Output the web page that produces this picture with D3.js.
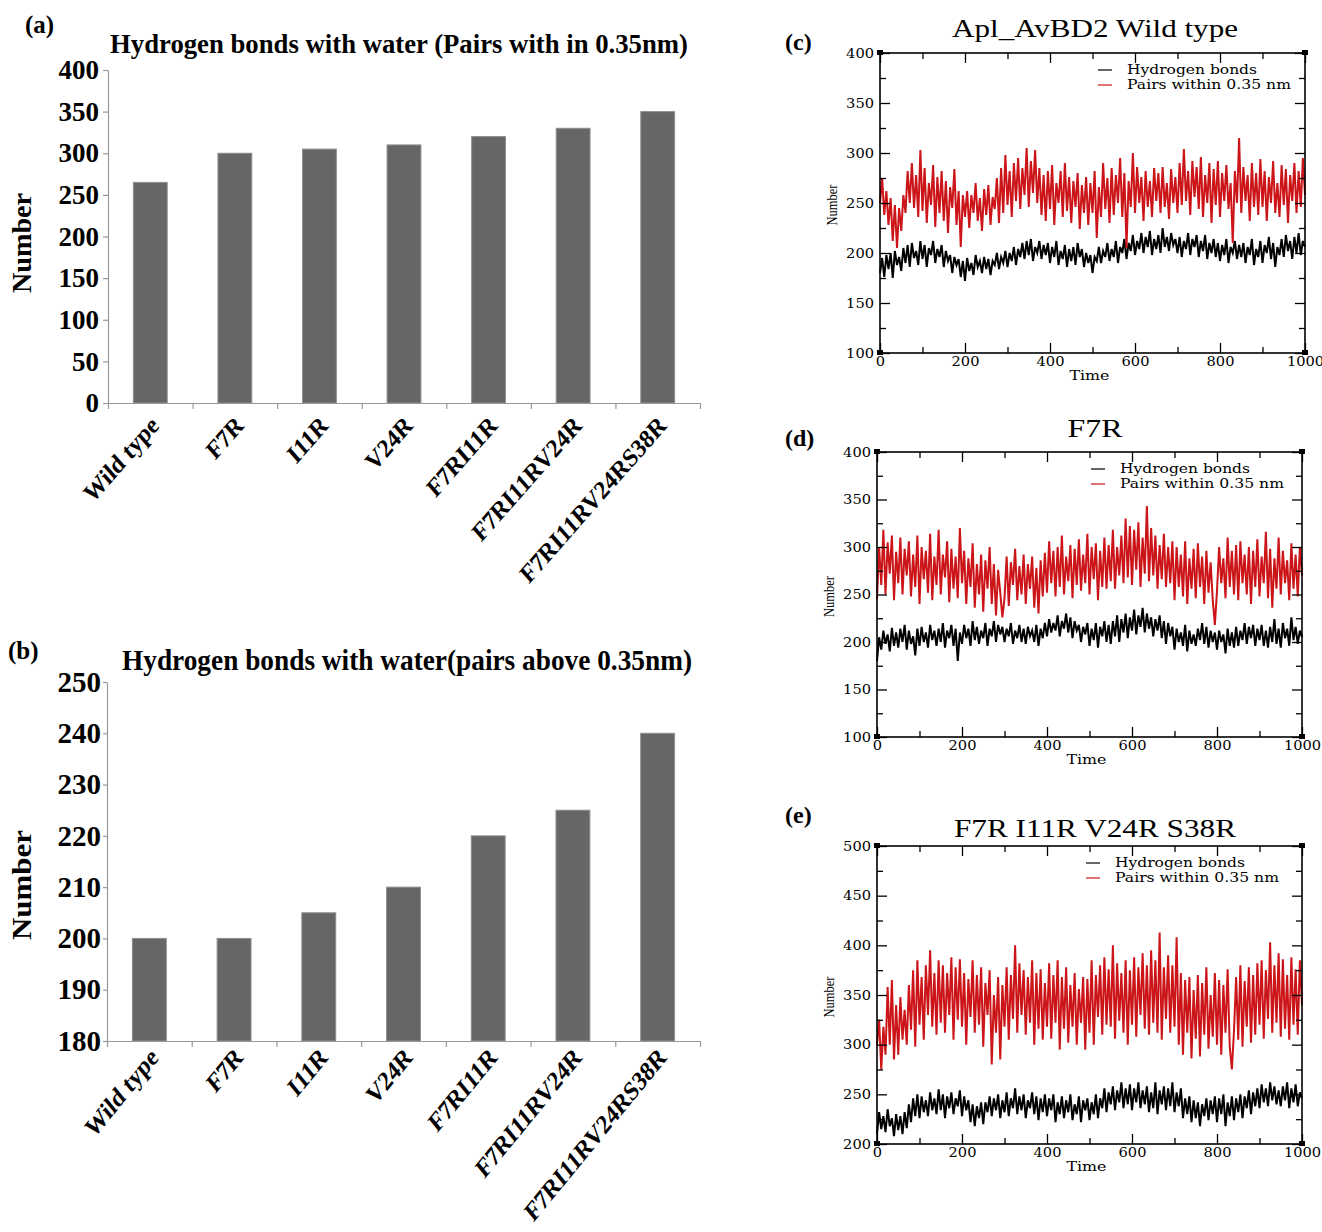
<!DOCTYPE html>
<html>
<head>
<meta charset="utf-8">
<script src="https://cdn.jsdelivr.net/npm/d3@7"></script>
<style>
body { margin: 0; background: #fff; }
</style>
</head>
<body>
<div id="graph"></div>
<script>
const svgw = 1322
const svgh = 1232
const serif = "'Liberation Serif','Times New Roman',serif"
const grace = "'DejaVu Serif',serif"

const mutants = ['Wild type', 'F7R', 'I11R', 'V24R', 'F7RI11R', 'F7RI11RV24R', 'F7RI11RV24RS38R']
const pairsWithin = [265, 300, 305, 310, 320, 330, 350]
const pairsAbove = [200, 200, 205, 210, 220, 225, 240]
const ticksA = [0, 50, 100, 150, 200, 250, 300, 350, 400]
const ticksB = [180, 190, 200, 210, 220, 230, 240, 250]

const timeStep = 5
const timeTicks = [0, 200, 400, 600, 800, 1000]
const timeMinor = [100, 300, 500, 700, 900]
const ticks100 = [100, 150, 200, 250, 300, 350, 400]
const minor100 = [125, 175, 225, 275, 325, 375]
const ticks200 = [200, 250, 300, 350, 400, 450, 500]
const minor200 = [225, 275, 325, 375, 425, 475]

const wtPairs = [250,275,238,262,228,255,212,248,205,245,
  222,258,240,282,250,290,245,278,236,303,
  242,285,230,270,248,288,226,276,240,282,
  232,272,220,266,245,284,228,262,206,258,
  236,262,225,258,240,270,232,255,222,264,
  238,268,228,256,244,275,230,285,240,298,
  248,282,236,290,252,295,244,285,258,305,
  246,292,260,303,250,285,238,278,232,282,
  244,288,228,270,250,282,236,290,242,276,
  230,272,246,280,224,268,240,276,228,270,
  240,282,215,266,236,290,244,275,230,285,
  238,278,250,295,236,280,205,272,246,300,
  240,286,250,276,232,282,246,272,236,285,
  252,280,240,286,246,270,234,284,250,276,
  240,290,248,304,252,282,238,292,256,286,
  244,296,236,278,250,290,230,284,248,292,
  236,280,252,288,244,270,210,282,250,315,
  240,286,252,278,232,290,246,280,238,294,
  246,282,232,276,250,292,240,270,236,288,
  248,284,230,278,252,290,240,282,246,295,258]
const wtHbonds = [180,195,176,198,184,200,175,202,188,196,
  182,205,190,208,186,210,195,202,188,212,
  194,208,186,205,198,212,190,204,196,208,
  186,202,192,198,180,196,188,194,176,192,
  172,195,182,190,178,198,186,192,180,196,
  184,194,178,192,188,200,184,196,190,202,
  186,200,192,206,188,204,196,210,194,212,
  198,214,192,206,200,212,194,208,198,210,
  190,206,196,212,188,202,194,208,186,204,
  192,206,188,210,196,204,186,200,190,198,
  180,196,192,206,190,202,196,210,192,204,
  196,212,190,206,200,214,194,210,202,218,
  198,212,204,220,200,216,206,222,198,214,
  204,218,200,225,206,216,202,220,208,214,
  200,216,196,212,204,220,198,214,206,218,
  196,212,202,218,194,210,200,214,196,210,
  192,208,198,214,190,206,200,212,194,208,
  196,210,190,206,198,214,188,204,196,212,
  190,208,200,216,194,210,186,206,198,214,
  196,218,202,212,194,216,200,220,198,212,206]
const f7rPairs = [245,300,260,318,250,305,272,312,244,295,
  262,310,250,298,270,306,248,292,258,312,
  240,300,266,296,252,314,244,290,260,318,
  250,292,268,306,242,298,256,290,246,320,
  262,296,240,288,258,304,236,282,250,292,
  232,286,256,300,240,282,228,276,252,226,
  246,290,238,284,260,298,244,280,250,292,
  240,282,256,290,236,278,230,286,248,294,
  252,306,262,296,248,300,258,312,250,290,
  264,302,246,298,260,308,254,292,262,314,
  250,300,266,304,244,296,258,310,256,302,
  264,318,256,300,270,312,262,330,268,322,
  260,318,276,326,258,310,272,343,264,320,
  270,312,256,302,266,314,258,300,262,306,
  244,300,258,292,248,306,240,288,256,298,
  246,304,258,290,240,296,252,284,244,218,
  254,300,262,288,246,310,258,296,250,302,
  244,306,262,292,250,300,240,296,258,308,
  248,290,262,316,246,298,236,288,256,310,
  250,296,262,286,244,304,256,292,248,300,270]
const f7rHbonds = [180,205,192,212,198,208,190,215,196,210,
  194,214,200,218,192,212,198,206,186,214,
  196,216,200,210,194,218,202,212,196,214,
  200,220,194,212,204,218,196,214,180,210,
  198,218,204,214,196,222,202,216,198,212,
  204,220,196,214,206,222,200,218,208,216,
  200,214,206,220,198,212,204,218,200,214,
  198,216,206,212,200,218,196,214,204,220,
  206,224,210,220,212,228,206,222,214,230,
  210,226,204,222,212,218,200,216,208,220,
  196,214,202,220,194,216,206,222,200,218,
  198,222,206,228,200,224,210,230,204,226,
  212,234,208,228,216,236,210,230,214,226,
  206,224,212,228,204,222,198,220,206,216,
  192,214,200,210,196,218,190,212,198,208,
  196,214,202,220,198,216,194,212,200,210,
  192,212,200,208,188,214,196,210,194,216,
  196,212,202,220,198,216,204,218,196,214,
  202,218,196,212,194,216,200,224,198,214,
  194,220,204,214,196,226,202,216,198,212,205]
const quadPairs = [300,325,275,318,290,358,300,365,285,340,
  290,348,305,335,300,360,315,375,298,385,
  320,368,305,380,330,395,318,372,310,385,
  322,380,312,372,330,388,305,378,325,386,
  318,372,300,366,328,385,312,370,320,378,
  298,362,330,375,280,350,312,368,285,360,
  318,378,305,370,326,400,312,382,330,375,
  310,368,322,385,300,372,316,376,305,362,
  318,382,306,370,322,385,295,368,316,378,
  302,360,318,372,300,356,322,368,295,366,
  312,385,300,370,328,380,310,388,320,376,
  318,400,306,382,324,372,312,385,300,375,
  320,388,308,378,330,392,316,380,310,395,
  322,385,312,413,305,378,326,390,312,380,
  318,408,300,372,290,365,312,368,286,355,
  306,370,288,362,310,378,296,350,308,372,
  300,365,290,360,312,376,298,275,314,368,
  305,380,298,364,318,378,302,370,310,382,
  320,385,306,375,326,403,312,380,322,392,
  308,386,316,370,305,388,320,376,310,385,340]
const quadHbonds = [210,232,215,228,212,235,218,226,208,230,
  214,228,210,232,216,240,222,246,228,250,
  226,248,232,244,228,252,234,246,230,255,
  234,250,226,248,236,252,230,246,238,254,
  228,248,234,244,222,240,218,238,226,242,
  220,242,232,248,228,246,234,250,226,244,
  232,252,228,246,236,256,230,248,234,250,
  226,244,236,252,230,248,224,246,232,250,
  228,246,234,250,222,242,230,248,226,244,
  232,250,224,240,230,248,222,244,234,246,
  224,242,230,250,226,246,236,256,232,252,
  240,258,234,254,242,262,236,256,240,260,
  234,256,242,262,236,254,240,258,232,252,
  236,262,230,254,240,258,234,256,238,262,
  232,252,238,256,226,246,230,248,222,244,
  226,242,218,240,228,246,224,244,230,248,
  222,246,230,250,218,242,228,248,224,246,
  232,250,226,248,236,254,230,252,238,256,
  236,260,242,256,238,262,244,258,240,254,
  238,258,244,262,236,256,242,260,238,252,246]

const svg = d3.select('#graph')
    .append('svg')
    .attr('width', svgw)
    .attr('height', svgh)
    .style('background', '#fff')

function label(txt, x, y, o) {
    const t = svg.append('text')
        .attr('x', x)
        .attr('y', y)
        .attr('font-family', o.family || serif)
        .attr('font-size', o.size)
        .attr('font-weight', o.weight || 'normal')
        .attr('text-anchor', o.anchor || 'start')
        .text(txt)
    if (o.len) t.attr('textLength', o.len).attr('lengthAdjust', 'spacingAndGlyphs')
    if (o.rotate) t.attr('transform', `rotate(-90,${x},${y})`)
    return t
}

function barPanel(o) {
    const x = d3.scaleBand()
        .domain(mutants)
        .range([o.left, o.right])
        .paddingInner(0.6)
        .paddingOuter(0.3)
    const y = d3.scaleLinear().domain(o.domain).range([o.bottom, o.top])
    const idx = d3.scaleLinear().domain([0, mutants.length]).range([o.left, o.right])

    svg.append('g').selectAll('rect')
        .data(o.values)
        .enter()
        .append('rect')
        .attr('x', (d, i) => x(mutants[i]))
        .attr('y', d => y(d))
        .attr('width', x.bandwidth())
        .attr('height', d => o.bottom - y(d))
        .attr('fill', '#666')
        .attr('stroke', '#8e8e8e')
        .attr('stroke-width', 1)

    const xa = svg.append('g')
        .attr('transform', `translate(0,${o.bottom})`)
        .call(d3.axisBottom(idx).tickValues(d3.range(mutants.length + 1)).tickFormat('').tickSize(6).tickSizeOuter(0))
    const ya = svg.append('g')
        .attr('transform', `translate(${o.left},0)`)
        .call(d3.axisLeft(y).tickValues(o.ticks).tickSize(o.tick).tickSizeOuter(0).tickPadding(o.pad))
    ;[xa, ya].forEach(a => {
        a.selectAll('path,line').attr('stroke', '#999').attr('stroke-width', 1.2)
    })
    ya.selectAll('text')
        .attr('font-family', serif)
        .attr('font-weight', 'bold')
        .attr('font-size', o.fs)
        .attr('fill', '#000')

    svg.append('g').selectAll('text')
        .data(mutants)
        .enter()
        .append('text')
        .attr('transform', d => `translate(${x(d) + x.bandwidth() / 2 + o.lx},${o.bottom + o.ly}) scale(${o.sx},1) rotate(-45)`)
        .attr('text-anchor', 'end')
        .attr('font-family', serif)
        .attr('font-weight', 'bold')
        .attr('font-size', o.lfs)
        .text(d => d)

    label(o.title, o.titleX, o.titleY, { size: o.tfs, weight: 'bold', anchor: 'middle', len: o.titleLen })
    label(o.tag, o.tagX, o.tagY, { size: 25, weight: 'bold' })
    label('Number', 31, o.nameY, { size: 27, weight: 'bold', anchor: 'middle', len: o.nameLen, rotate: true })
}

function tracePanel(o) {
    const x = d3.scaleLinear().domain([0, 1000]).range([o.left, o.right])
    const y = d3.scaleLinear().domain(o.domain).range([o.bottom, o.top])
    const line = d3.line()
        .x((d, i) => x(i * timeStep))
        .y(d => y(d))

    svg.append('path')
        .datum(o.hb)
        .attr('d', line)
        .attr('fill', 'none')
        .attr('stroke', '#000')
        .attr('stroke-width', 2)
    svg.append('path')
        .datum(o.pairs)
        .attr('d', line)
        .attr('fill', 'none')
        .attr('stroke', '#cc1518')
        .attr('stroke-width', 2)

    const axes = [
        [d3.axisLeft(y).tickValues(o.ticks), `translate(${o.left},0)`, true],
        [d3.axisLeft(y).tickValues(o.minor), `translate(${o.left},0)`, false],
        [d3.axisRight(y).tickValues(o.ticks), `translate(${o.right},0)`, true],
        [d3.axisRight(y).tickValues(o.minor), `translate(${o.right},0)`, false],
        [d3.axisBottom(x).tickValues(timeTicks), `translate(0,${o.bottom})`, true],
        [d3.axisBottom(x).tickValues(timeMinor), `translate(0,${o.bottom})`, false],
        [d3.axisTop(x).tickValues(timeTicks), `translate(0,${o.top})`, true],
        [d3.axisTop(x).tickValues(timeMinor), `translate(0,${o.top})`, false]
    ]
    axes.forEach(([ax, tr, major], i) => {
        ax.tickSizeInner(major ? -10 : -6).tickSizeOuter(0).tickPadding(i === 0 ? 6 : 4)
        if (i === 0 || i === 4) ax.tickFormat(d3.format('d'))
        else ax.tickFormat('')
        const g = svg.append('g').attr('transform', tr).call(ax)
        g.select('.domain').remove()
        g.selectAll('line').attr('stroke', '#000').attr('stroke-width', 1.3)
        g.selectAll('text')
            .attr('font-family', grace)
            .attr('font-size', 12.5)
            .attr('fill', '#000')
            .each(function () {
                const s = d3.select(this)
                s.attr('textLength', s.text().length * 9.3).attr('lengthAdjust', 'spacingAndGlyphs')
            })
    })

    svg.append('rect')
        .attr('x', o.left)
        .attr('y', o.top)
        .attr('width', o.right - o.left)
        .attr('height', o.bottom - o.top)
        .attr('fill', 'none')
        .attr('stroke', '#000')
        .attr('stroke-width', 1.6)

    const corners = [[0, o.domain[0]], [0, o.domain[1]], [1000, o.domain[0]], [1000, o.domain[1]]]
    svg.append('g').selectAll('rect')
        .data(corners)
        .enter()
        .append('rect')
        .attr('x', d => x(d[0]) - 3)
        .attr('y', d => y(d[1]) - 3)
        .attr('width', 6)
        .attr('height', 5)
        .attr('fill', '#000')

    const legend = [['Hydrogen bonds', '#000', 130], ['Pairs within 0.35 nm', '#cc1518', 164]]
    legend.forEach(([txt, col, len], i) => {
        const ly = o.top + 17 + i * 15
        svg.append('line')
            .attr('x1', o.left + o.legX)
            .attr('x2', o.left + o.legX + 14)
            .attr('y1', ly)
            .attr('y2', ly)
            .attr('stroke', col)
            .attr('stroke-width', 1.2)
        label(txt, o.left + o.legX + 29, ly + 4, { family: grace, size: 12.5, len: len })
    })

    label('Time', (o.left + o.right) / 2 - 3, o.bottom + 27, { family: grace, size: 13, anchor: 'middle', len: 40 })
    label('Number', o.left - 43, (o.top + o.bottom) / 2 + 2, { size: 15, anchor: 'middle', len: 41, rotate: true })
    label(o.title, 1095, o.titleY, { size: 26, anchor: 'middle', len: o.titleLen })
    label(o.tag, 785, o.tagY, { size: 24, weight: 'bold' })
}

barPanel({
    left: 108, right: 700, top: 70, bottom: 403, domain: [0, 400], values: pairsWithin, ticks: ticksA,
    tick: 5, pad: 4, fs: 27, lfs: 26, lx: 10, ly: 24, sx: 0.88,
    title: 'Hydrogen bonds with water (Pairs with in 0.35nm)', titleX: 399, titleY: 53, tfs: 28, titleLen: 578,
    tag: '(a)', tagX: 25, tagY: 33, nameY: 243, nameLen: 100
})

barPanel({
    left: 107, right: 700, top: 682, bottom: 1041, domain: [180, 250], values: pairsAbove, ticks: ticksB,
    tick: 4, pad: 2, fs: 29, lfs: 27, lx: 10, ly: 18, sx: 0.82,
    title: 'Hydrogen bonds with water(pairs above 0.35nm)', titleX: 407, titleY: 670, tfs: 29, titleLen: 570,
    tag: '(b)', tagX: 8, tagY: 659, nameY: 885, nameLen: 110
})

tracePanel({
    left: 880, right: 1305, top: 53, bottom: 353, domain: [100, 400], ticks: ticks100, minor: minor100,
    hb: wtHbonds, pairs: wtPairs, legX: 218,
    title: 'Apl_AvBD2 Wild type', titleY: 37, titleLen: 286, tag: '(c)', tagY: 50
})

tracePanel({
    left: 877, right: 1302, top: 452, bottom: 737, domain: [100, 400], ticks: ticks100, minor: minor100,
    hb: f7rHbonds, pairs: f7rPairs, legX: 214,
    title: 'F7R', titleY: 437, titleLen: 55, tag: '(d)', tagY: 446
})

tracePanel({
    left: 877, right: 1302, top: 846, bottom: 1144, domain: [200, 500], ticks: ticks200, minor: minor200,
    hb: quadHbonds, pairs: quadPairs, legX: 209,
    title: 'F7R I11R V24R S38R', titleY: 837, titleLen: 282, tag: '(e)', tagY: 823
})
</script>
</body>
</html>
